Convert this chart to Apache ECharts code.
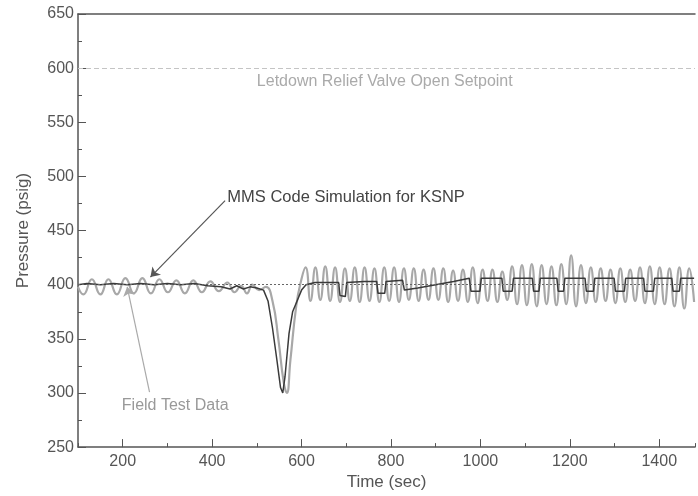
<!DOCTYPE html>
<html>
<head>
<meta charset="utf-8">
<script src="https://cdn.jsdelivr.net/npm/echarts@6.0.0/dist/echarts.min.js"></script>
<style>
  html, body { margin: 0; padding: 0; background: #fff; }
  #main { width: 698px; height: 496px; }
</style>
</head>
<body>
<div id="main"></div>
<script>
// tick labels
var timeTicks = [200, 400, 600, 800, 1000, 1200, 1400];
var pressureTicks = [250, 300, 350, 400, 450, 500, 550, 600, 650];

// Field Test Data (peaks / troughs)
var fieldTime = [100, 112, 131, 150, 168, 187, 206, 225, 244, 263, 282, 301, 320, 339, 358, 377, 396, 415, 434, 450,
  465, 478, 490, 505, 520, 535, 548, 560, 567, 575, 588, 598,
  609, 620, 631, 642, 653, 664, 675, 686, 697, 708, 719, 730, 741, 752, 763, 774, 785, 796, 807, 818,
  829, 840, 851, 862, 873, 884, 895, 906, 917, 928, 939, 950, 961, 972, 983, 994, 1005, 1016, 1027, 1038,
  1049, 1060, 1071, 1082, 1093, 1104, 1115, 1126, 1137, 1148, 1159, 1170, 1181, 1192, 1203, 1214, 1225, 1236,
  1247, 1258, 1269, 1280, 1291, 1302, 1313, 1324, 1335, 1346, 1357, 1368, 1379, 1390, 1401, 1412, 1423, 1434,
  1445, 1456, 1467, 1478];
var fieldValue = [398, 391, 405, 391, 405, 391, 406, 392, 406, 392, 405, 393, 404, 392, 404, 393, 403, 394, 402, 393,
  399, 392, 400, 395, 398, 385, 350, 310, 300, 330, 380, 402,
  416, 385, 416, 386, 417, 385, 416, 384, 415, 385, 416, 384, 416, 385, 415, 384, 416, 385, 416, 384,
  415, 386, 415, 385, 414, 386, 415, 386, 415, 384, 413, 385, 414, 384, 416, 383, 414, 385, 414, 384,
  412, 386, 417, 382, 418, 381, 419, 380, 418, 382, 417, 381, 419, 382, 427, 380, 418, 383,
  416, 384, 415, 385, 414, 383, 415, 384, 414, 385, 416, 383, 417, 382, 416, 382, 415, 380,
  416, 378, 415, 384];

// MMS Code Simulation for KSNP
var mmsTime = [100, 120, 150, 180, 210, 240, 270, 300, 330, 360, 390, 420, 440, 455, 470, 485, 500, 515, 525, 535,
  545, 553, 558, 563, 572, 580, 590, 600, 610, 630, 660, 683, 686, 698, 701, 740, 768, 771, 786, 789,
  826, 830, 860, 900, 940, 975, 979, 999, 1002, 1048, 1051, 1071, 1074, 1116, 1119, 1131, 1134, 1171, 1174, 1186,
  1189, 1234, 1237, 1253, 1256, 1299, 1302, 1322, 1325, 1365, 1368, 1387, 1390, 1428, 1431, 1445, 1448, 1478];
var mmsValue = [400, 401, 400, 401, 400, 401, 400, 401, 400, 401, 399, 398, 396, 399, 396, 398, 397, 395, 385, 360,
  330, 305, 300, 315, 355, 375, 385, 395, 400, 402, 402, 402, 390, 389, 402, 403, 403, 392, 392, 403,
  404, 395, 397, 400, 403, 406, 394, 394, 406, 406, 394, 394, 406, 406, 394, 394, 406, 406, 394, 394,
  406, 406, 394, 394, 406, 406, 394, 394, 406, 406, 394, 394, 406, 406, 394, 394, 406, 406];

function pairs(xs, ys) {
  var out = [];
  for (var i = 0; i < xs.length; i++) out.push([xs[i], ys[i]]);
  return out;
}

var axisColor = '#555';
var font = 'Liberation Sans, Arial, sans-serif';

var myChart = echarts.init(document.getElementById('main'));
myChart.setOption({
  animation: false,
  backgroundColor: '#fff',
  grid: { left: 78, right: 0, top: 14, bottom: 48 },
  xAxis: [
    {
      type: 'value', min: 100, max: 1480, interval: 100,
      name: 'Time (sec)', nameLocation: 'middle', nameGap: 24,
      nameTextStyle: { color: axisColor, fontSize: 17, fontFamily: font },
      axisLine: { lineStyle: { color: axisColor, width: 1.5 } },
      axisTick: { inside: true, length: 4, lineStyle: { color: axisColor } },
      axisLabel: {
        color: axisColor, fontSize: 16, fontFamily: font, margin: 6,
        formatter: function (v) { return timeTicks.indexOf(v) >= 0 ? String(v) : ''; }
      },
      splitLine: { show: false }
    },
    {
      type: 'value', min: 100, max: 1480, position: 'bottom',
      axisLine: { show: false },
      axisTick: { show: true, inside: true, length: 8, customValues: timeTicks, lineStyle: { color: axisColor } },
      axisLabel: { show: false },
      splitLine: { show: false }
    },
    {
      type: 'value', min: 100, max: 1480, position: 'top',
      axisLine: { show: true, lineStyle: { color: axisColor, width: 1.5 } },
      axisTick: { show: false }, axisLabel: { show: false }, splitLine: { show: false }
    }
  ],
  yAxis: {
    type: 'value', min: 250, max: 650, interval: 50,
    name: 'Pressure (psig)', nameLocation: 'middle', nameGap: 46, nameRotate: 90,
    nameTextStyle: { color: axisColor, fontSize: 17, fontFamily: font },
    axisLine: { show: true, lineStyle: { color: axisColor, width: 1.5 } },
    axisTick: { inside: true, length: 8, lineStyle: { color: axisColor } },
    minorTick: { show: true, splitNumber: 2, length: 4, lineStyle: { color: axisColor } },
    axisLabel: {
      color: axisColor, fontSize: 16, fontFamily: font, margin: 4,
      formatter: function (v) { return pressureTicks.indexOf(v) >= 0 ? String(v) : ''; }
    },
    splitLine: { show: false }
  },
  series: [
    {
      name: 'Field Test Data',
      type: 'line',
      smooth: 0.5,
      showSymbol: false,
      data: pairs(fieldTime, fieldValue),
      lineStyle: { color: '#a8a8a8', width: 2.2 },
      markLine: {
        silent: true,
        symbol: ['none', 'none'],
        label: { show: false },
        data: [
          { yAxis: 600, lineStyle: { color: '#c4c4c4', type: [5, 3], width: 1.2 } },
          { yAxis: 400, lineStyle: { color: '#666', type: [2, 2], width: 1 } },
          [
            { coord: [429, 477.6], symbol: 'none', lineStyle: { color: '#555', type: 'solid', width: 1.2 } },
            { coord: [262, 407], symbol: 'arrow', symbolSize: 9 }
          ],
          [
            { coord: [260, 300.7], symbol: 'none', lineStyle: { color: '#aaa', type: 'solid', width: 1.2 } },
            { coord: [210, 398], symbol: 'arrow', symbolSize: 9 }
          ]
        ]
      },
      markPoint: {
        silent: true,
        symbol: 'circle',
        symbolSize: 0,
        data: [
          { coord: [434, 481], label: { show: true, position: 'right', distance: 0, formatter: 'MMS Code Simulation for KSNP', color: '#444', fontSize: 16.5, fontFamily: font } },
          { coord: [500, 587.3], label: { show: true, position: 'right', distance: 0, formatter: 'Letdown Relief Valve Open Setpoint', color: '#aaa', fontSize: 16, fontFamily: font } },
          { coord: [198, 288.7], label: { show: true, position: 'right', distance: 0, formatter: 'Field Test Data', color: '#999', fontSize: 16, fontFamily: font } }
        ]
      },
      z: 2
    },
    {
      name: 'MMS Code Simulation for KSNP',
      type: 'line',
      showSymbol: false,
      data: pairs(mmsTime, mmsValue),
      lineStyle: { color: '#3a3a3a', width: 1.5 },
      z: 3
    }
  ]
});
</script>
</body>
</html>
